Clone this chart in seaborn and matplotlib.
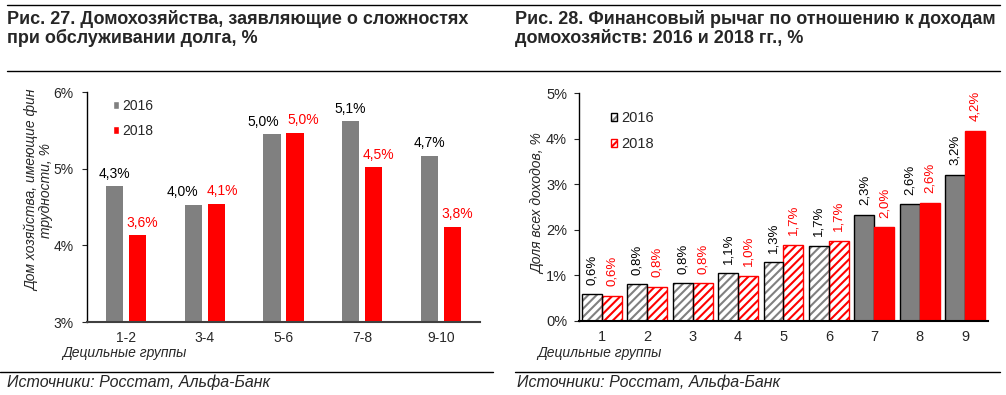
import numpy as np
import pandas as pd
import matplotlib
matplotlib.use("Agg")
import matplotlib.pyplot as plt
from matplotlib.patches import Patch, Rectangle
from matplotlib.lines import Line2D
from matplotlib.ticker import FuncFormatter
import seaborn as sns

# Рис. 27: bar heights as drawn on the 3-6% axis, labels as printed
groups27 = ["1-2", "3-4", "5-6", "7-8", "9-10"]
bars27_2016 = [4.77, 4.53, 5.45, 5.62, 5.17]
bars27_2018 = [4.13, 4.54, 5.47, 5.02, 4.24]
labels27_2016 = ["4,3%", "4,0%", "5,0%", "5,1%", "4,7%"]
labels27_2018 = ["3,6%", "4,1%", "5,0%", "4,5%", "3,8%"]

# Рис. 28
groups28 = ["1", "2", "3", "4", "5", "6", "7", "8", "9"]
lev_2016 = [0.58, 0.80, 0.82, 1.04, 1.28, 1.64, 2.32, 2.56, 3.21]
lev_2018 = [0.55, 0.75, 0.82, 0.99, 1.67, 1.75, 2.05, 2.59, 4.18]
labels28_2016 = ["0,6%", "0,8%", "0,8%", "1,1%", "1,3%", "1,7%", "2,3%", "2,6%", "3,2%"]
labels28_2018 = ["0,6%", "0,8%", "0,8%", "1,0%", "1,7%", "1,7%", "2,0%", "2,6%", "4,2%"]

years = ["2016", "2018"]
GRAY = "#808080"
RED = "#ff0000"

# horizontal nudges (points) of the left chart's value labels, as in the original
nudge27 = [[0, -8, -6, 0, 0], [3, 4, 6, 3.5, 3.5]]

sns.set_style("white")
plt.rcParams["font.family"] = ["Liberation Sans", "DejaVu Sans"]
plt.rcParams["hatch.linewidth"] = 1.5

W, H = 1006, 395
fig = plt.figure(figsize=(W / 100, H / 100), dpi=100)


def fx(x):
    return x / W


def fy(y):
    return 1 - y / H


pct = FuncFormatter(lambda v, _: f"{int(round(v))}%")

# ---------- left chart ----------
df27 = pd.DataFrame({
    "group": groups27 * 2,
    "value": bars27_2016 + bars27_2018,
    "year": [years[0]] * len(groups27) + [years[1]] * len(groups27),
})
ax1 = fig.add_axes([fx(87), fy(322), 393 / W, 230 / H])
sns.barplot(df27, x="group", y="value", hue="year", palette=[GRAY, RED],
            width=0.585, gap=0.26, saturation=1, errorbar=None,
            linewidth=0, legend=False, ax=ax1)
ax1.set_ylim(3, 6)
ax1.set_yticks([3, 4, 5, 6])
ax1.yaxis.set_major_formatter(pct)
ax1.set_xlim(-0.5, len(groups27) - 0.5)
ax1.set_xlabel("")
ax1.set_ylabel("")
sns.despine(ax=ax1)
ax1.spines["left"].set_color("black")
ax1.spines["left"].set_linewidth(1)
ax1.spines["bottom"].set_color("#404040")
ax1.spines["bottom"].set_linewidth(1.5)
ax1.tick_params(axis="y", left=True, length=3.6, width=0.8, pad=6, labelsize=10)
ax1.tick_params(axis="x", bottom=False, length=0, pad=6.5, labelsize=10)
for cont, labs, col, dxs in zip(ax1.containers, [labels27_2016, labels27_2018],
                                ["black", RED], nudge27):
    anns = ax1.bar_label(cont, labels=labs, padding=4, color=col, fontsize=10)
    for ann, dx in zip(anns, dxs):
        ann.xyann = (dx, 4)
ax1.legend([Patch(facecolor=GRAY), Patch(facecolor=RED)], years,
           loc="upper left", bbox_to_anchor=(0.066, 0.97), frameon=False,
           handlelength=0.45, handleheight=0.45, handletextpad=0.25,
           labelspacing=0.8, fontsize=10, borderaxespad=0, borderpad=0)

# ---------- right chart ----------
df28 = pd.DataFrame({
    "group": groups28 * 2,
    "value": lev_2016 + lev_2018,
    "year": [years[0]] * len(groups28) + [years[1]] * len(groups28),
})
ax2 = fig.add_axes([fx(579), fy(320.7), 409 / W, 227.4 / H])
sns.barplot(df28, x="group", y="value", hue="year", palette=[GRAY, RED],
            width=0.88, gap=0, saturation=1, errorbar=None,
            legend=False, ax=ax2)
n_hatched = 6
for i, bar in enumerate(ax2.containers[0]):
    if i < n_hatched:
        bar.set_facecolor("white")
        bar.set_edgecolor(GRAY)
        bar.set_hatch("////")
        bar.set_linewidth(0)
        ax2.add_patch(Rectangle(bar.get_xy(), bar.get_width(), bar.get_height(),
                                fill=False, edgecolor="black", linewidth=1, zorder=3))
    else:
        bar.set_edgecolor("black")
        bar.set_linewidth(1)
for i, bar in enumerate(ax2.containers[1]):
    bar.set_edgecolor(RED)
    bar.set_linewidth(1)
    if i < n_hatched:
        bar.set_facecolor("white")
        bar.set_hatch("////")
ax2.set_ylim(0, 5)
ax2.set_yticks(range(6))
ax2.yaxis.set_major_formatter(pct)
ax2.set_xlim(-0.5, len(groups28) - 0.5)
ax2.set_xlabel("")
ax2.set_ylabel("")
sns.despine(ax=ax2)
ax2.spines["left"].set_color("black")
ax2.spines["left"].set_linewidth(1)
ax2.spines["bottom"].set_color("black")
ax2.spines["bottom"].set_linewidth(1.5)
ax2.tick_params(axis="y", left=True, length=3.6, width=0.8, pad=5, labelsize=10.5)
ax2.tick_params(axis="x", bottom=False, length=0, pad=6.5, labelsize=10.5)
for cont, labs, col in zip(ax2.containers, [labels28_2016, labels28_2018], ["black", RED]):
    ax2.bar_label(cont, labels=labs, padding=7, color=col, fontsize=9.5, rotation=90)
h2016 = (Patch(facecolor="white", edgecolor=GRAY, hatch="////", linewidth=0),
         Patch(fill=False, edgecolor="black", linewidth=1))
h2018 = Patch(facecolor="white", edgecolor=RED, hatch="////", linewidth=1)
ax2.legend([h2016, h2018], years, loc="upper left", bbox_to_anchor=(0.078, 0.921),
           frameon=False, handlelength=0.45, handleheight=0.45, handletextpad=0.25,
           labelspacing=0.8, fontsize=10.5, borderaxespad=0, borderpad=0)

# ---------- texts and rules ----------
fig.text(fx(7), fy(24.3), "Рис. 27. Домохозяйства, заявляющие о сложностях",
         fontsize=13, fontweight="bold", va="baseline")
fig.text(fx(7), fy(43.3), "при обслуживании долга, %",
         fontsize=13, fontweight="bold", va="baseline")
fig.text(fx(515), fy(24.3), "Рис. 28. Финансовый рычаг по отношению к доходам",
         fontsize=13, fontweight="bold", va="baseline")
fig.text(fx(515), fy(43.3), "домохозяйств: 2016 и 2018 гг., %",
         fontsize=13, fontweight="bold", va="baseline")

fig.text(fx(39), fy(190), "Дом хозяйства, имеющие фин\nтрудности, %", rotation=90,
         style="italic", fontsize=10, ha="center", va="center",
         multialignment="center", linespacing=1.05)
fig.text(fx(538), fy(204), "Доля всех доходов, %", rotation=90,
         style="italic", fontsize=10, ha="center", va="center")

fig.text(fx(62), fy(353), "Децильные группы", style="italic", fontsize=10, va="center")
fig.text(fx(537), fy(353), "Децильные группы", style="italic", fontsize=10, va="center")

fig.text(fx(7), fy(387), "Источники: Росстат, Альфа-Банк", style="italic",
         fontsize=11.5, va="baseline")
fig.text(fx(517), fy(387), "Источники: Росстат, Альфа-Банк", style="italic",
         fontsize=11.5, va="baseline")

for x0, x1, y in [(7, 1000, 5), (7, 1000, 71), (0, 493, 372), (515, 1000, 372)]:
    fig.add_artist(Line2D([fx(x0), fx(x1)], [fy(y), fy(y)], color="black",
                          linewidth=1, transform=fig.transFigure))

fig.savefig("out.png", dpi=100)
